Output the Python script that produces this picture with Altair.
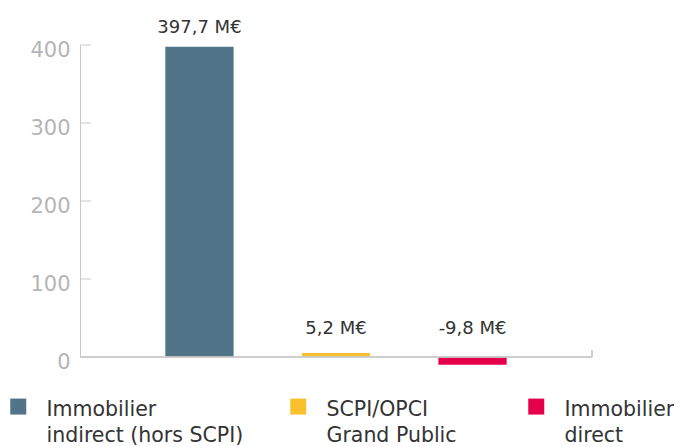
import altair as alt
import pandas as pd

categories = ["Immobilier indirect (hors SCPI)", "SCPI/OPCI Grand Public", "Immobilier direct"]
values = [397.7, 5.2, -9.8]
value_labels = ["397,7 M€", "5,2 M€", "-9,8 M€"]
legend_lines = [["Immobilier", "indirect (hors SCPI)"], ["SCPI/OPCI", "Grand Public"], ["Immobilier", "direct"]]
colors = ["#527489", "#FBC02D", "#E5004C"]
y_ticks = [0, 100, 200, 300, 400]

FONT = "DejaVu Sans"
W, H = 512, 312
LEGEND_X = [-72, 208, 446]

df = pd.DataFrame({"cat": categories, "value": values, "label": value_labels})
ticks_df = pd.DataFrame({"tick": y_ticks})

x_enc = alt.X("cat:N", sort=categories, axis=None,
              scale=alt.Scale(paddingInner=0.5, paddingOuter=0.625))
y_scale = alt.Scale(domain=[0, 400], nice=False)
y_axis = alt.Axis(values=y_ticks, tickSize=0, labelPadding=10, labelOffset=5,
                  domainColor="#c8c8c8", labelColor="#b5b5b5", labelFontSize=21,
                  labelFont=FONT, grid=False, minExtent=72)

bar_layers = []
for i, (cat, lines, col) in enumerate(zip(categories, legend_lines, colors)):
    bar_layers.append(
        alt.Chart(df).transform_filter(alt.datum.cat == cat).mark_bar().encode(
            x=x_enc,
            y=alt.Y("value:Q", scale=y_scale, title=None, axis=y_axis),
            color=alt.Color("cat:N", scale=alt.Scale(domain=[cat], range=[col]),
                            legend=alt.Legend(title=None, orient="none",
                                              legendX=LEGEND_X[i], legendY=361,
                                              symbolType="M-1,-2.21H1V-0.21H-1Z", symbolSize=256,
                                              symbolStrokeWidth=0,
                                              labelFont=FONT, labelFontSize=20.5,
                                              labelColor="#333333", labelOffset=18,
                                              labelExpr=repr(lines), labelLimit=400,
                                              labelBaseline="alphabetic", padding=0)),
        )
    )

texts = alt.Chart(df).transform_calculate(
    ypos="max(datum.value, 12)"
).mark_text(font=FONT, fontSize=18, color="#333333", baseline="alphabetic", dy=-14).encode(
    x=x_enc,
    y=alt.Y("ypos:Q", scale=y_scale, axis=y_axis),
    text="label:N",
)

baseline = alt.Chart(df).mark_rule(color="#c8c8c8", strokeWidth=1).encode(
    x=alt.value(0), x2=alt.value(W), y=alt.Y(datum=0, scale=y_scale, axis=y_axis)
)

end_tick = alt.Chart(df).mark_rule(color="#c8c8c8", strokeWidth=1).encode(
    x=alt.value(W), y=alt.Y(datum=0, scale=y_scale, axis=y_axis), y2=alt.Y2(datum=9)
)

tick_rules = alt.Chart(ticks_df).mark_rule(color="#c8c8c8", strokeWidth=1).encode(
    x=alt.value(0), x2=alt.value(11), y=alt.Y("tick:Q", scale=y_scale, title=None, axis=y_axis)
)

chart = alt.layer(*bar_layers, baseline, end_tick, tick_rules, texts).resolve_scale(
    color="independent"
).properties(
    width=W, height=H,
    padding={"left": 72, "top": 37, "right": 82, "bottom": 90},
    autosize=alt.AutoSizeParams(type="none"),
).configure(
    view=alt.ViewConfig(stroke=None),
    style={"guide-label": {"lineHeight": 26}},
)

chart.save("out.html", embed_options={"renderer": "svg", "actions": False})
